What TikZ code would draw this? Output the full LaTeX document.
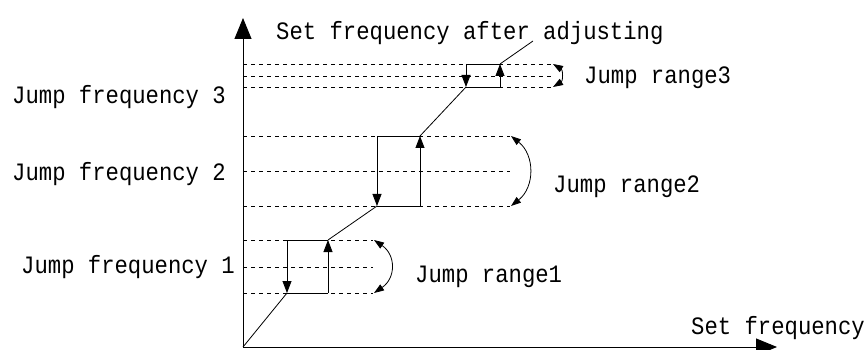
\documentclass[tikz,border=0pt]{standalone}
\usepackage{fontspec}
\setmainfont{Liberation Mono}
\newfontfamily\lblfont[FakeStretch=0.89]{Liberation Mono}
\usetikzlibrary{arrows.meta}
\begin{document}
\begin{tikzpicture}[x=1pt,y=-1pt,
  lbl/.style={inner sep=0pt,anchor=west,font=\lblfont\fontsize{25}{28}\selectfont},
  axis/.style={line width=0.9pt,-{Triangle[length=21pt,width=17pt]}},
  dsh/.style={dash pattern=on 4pt off 4pt,line width=0.6pt},
  sol/.style={line width=0.8pt},
  jarr/.style={line width=0.8pt,-{Triangle[length=12pt,width=9pt]}},
  carr/.style={line width=0.8pt,{Triangle[length=10pt,width=7pt]}-{Triangle[length=10pt,width=7pt]}}]
\useasboundingbox (0,0) rectangle (868,350);
\coordinate (O) at (243,347);
\coordinate (Ytop) at (243,18);
\coordinate (Xend) at (777,347);
\draw[axis] (O) -- (Ytop);
\draw[axis] (O) -- (Xend);
% jump 1
\foreach \y in {240,267,293} \draw[dsh] (243,\y) -- (373,\y);
\coordinate (a1) at (287,240); \coordinate (b1) at (287,293);
\coordinate (c1) at (328,293); \coordinate (d1) at (328,240);
\draw[sol] (a1) -- (d1); \draw[sol] (b1) -- (c1);
\draw[jarr] (a1) -- (b1);
\draw[jarr] (c1) -- (d1);
\draw[sol] (O) -- (b1);
% jump 2
\foreach \y in {136,171,206} \draw[dsh] (243,\y) -- (510,\y);
\coordinate (a2) at (377,136); \coordinate (b2) at (377,206);
\coordinate (c2) at (420,206); \coordinate (d2) at (420,136);
\draw[sol] (a2) -- (d2); \draw[sol] (b2) -- (c2);
\draw[jarr] (a2) -- (b2);
\draw[jarr] (c2) -- (d2);
\draw[sol] (d1) -- (b2);
% jump 3
\foreach \y in {64,76,87} \draw[dsh] (243,\y) -- (553,\y);
\coordinate (a3) at (466,64); \coordinate (b3) at (466,87);
\coordinate (c3) at (500,87); \coordinate (d3) at (500,64);
\draw[sol] (a3) -- (d3); \draw[sol] (b3) -- (c3);
\draw[jarr] (a3) -- (b3);
\draw[jarr] (c3) -- (d3);
\draw[sol] (d2) -- (b3);
\coordinate (lead) at (533,41);
\draw[sol] (d3) -- (lead);
% curved range arrows
\coordinate (r1t) at (374,240); \coordinate (r1b) at (374,293);
\draw[carr] (r1t) .. controls (396,255) and (396,278) .. (r1b);
\coordinate (r2t) at (511,136); \coordinate (r2b) at (511,206);
\draw[carr] (r2t) .. controls (535,155) and (535,187) .. (r2b);
\coordinate (r3t) at (553,64); \coordinate (r3b) at (553,87);
\draw[carr] (r3t) .. controls (563,70) and (563,81) .. (r3b);
% labels
\node[lbl] (t0) at (276,33) {Set frequency after adjusting};
\node[lbl] (f3) at (12,97) {Jump frequency 3};
\node[lbl] (f2) at (12,174) {Jump frequency 2};
\node[lbl] (f1) at (21,267) {Jump frequency 1};
\node[lbl] (g1) at (415,277) {Jump range1};
\node[lbl] (g2) at (553,187) {Jump range2};
\node[lbl] (g3) at (584,78) {Jump range3};
\node[lbl] (sx) at (691,328) {Set frequency};
\end{tikzpicture}
\end{document}
